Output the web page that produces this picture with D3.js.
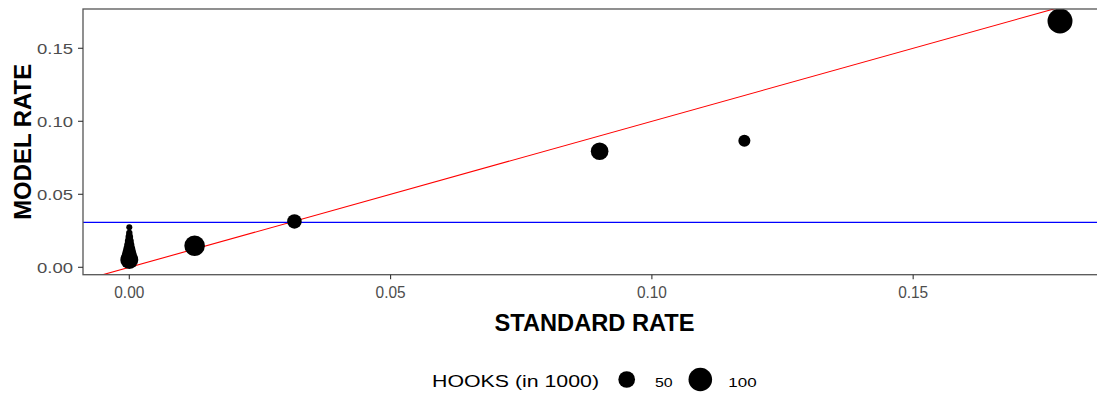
<!DOCTYPE html>
<html>
<head>
<meta charset="utf-8">
<script src="https://cdn.jsdelivr.net/npm/d3@7"></script>
<style>
  html, body { margin: 0; padding: 0; background: #fff; }
  svg { display: block; font-family: "Liberation Sans", Arial, sans-serif; }
</style>
</head>
<body>
<svg id="chart" width="1097" height="394"></svg>
<script>
// Standard vs model rate per group, point size = hooks (thousands)
const standardRate = [0.1781, 0.0900, 0.1177, 0.0316, 0.0125,
                      0, 0, 0, 0, 0, 0, 0, 0, 0];
const modelRate    = [0.1687, 0.0795, 0.0866, 0.0314, 0.0147,
                      0.0050, 0.0071, 0.0098, 0.0125, 0.0153, 0.0180, 0.0208, 0.0235, 0.0274];
const hooks        = [112, 56, 26, 38, 76,
                      58, 46, 35, 26, 19, 14.5, 10.4, 7.4, 6.5];
const meanRate = 0.0308;

const xTicks = [0, 0.05, 0.10, 0.15];
const yTicks = [0, 0.05, 0.10, 0.15];
const sizeBreaks = [50, 100];

const svg = d3.select("#chart");
const panel = { left: 83, right: 1106, top: 9, bottom: 274.7 };

const x = d3.scaleLinear().domain([-0.00886, 0.1869]).range([panel.left, panel.right]);
const y = d3.scaleLinear().domain([-0.00507, 0.1769]).range([panel.bottom, panel.top]);
const r = d3.scaleSqrt().domain([0, 100]).range([0, 11.8]);

svg.append("defs").append("clipPath").attr("id", "clip")
  .append("rect")
  .attr("x", panel.left).attr("y", panel.top)
  .attr("width", panel.right - panel.left).attr("height", panel.bottom - panel.top);

const plot = svg.append("g").attr("clip-path", "url(#clip)");

// reference lines: identity (red) and mean rate (blue)
const xd = x.domain();
plot.append("line")
  .attr("x1", x(xd[0])).attr("y1", y(xd[0]))
  .attr("x2", x(xd[1])).attr("y2", y(xd[1]))
  .attr("stroke", "#ff0000").attr("stroke-width", 1.1);

plot.append("line")
  .attr("x1", panel.left).attr("x2", panel.right)
  .attr("y1", y(meanRate)).attr("y2", y(meanRate))
  .attr("stroke", "#0000ff").attr("stroke-width", 1.1);

// points
plot.selectAll("circle.pt")
  .data(standardRate.map((s, i) => ({ s, m: modelRate[i], h: hooks[i] })))
  .join("circle")
  .attr("class", "pt")
  .attr("cx", d => x(d.s))
  .attr("cy", d => y(d.m))
  .attr("r", d => r(d.h))
  .attr("fill", "#000");

// panel border
svg.append("rect")
  .attr("x", panel.left).attr("y", panel.top)
  .attr("width", panel.right - panel.left).attr("height", panel.bottom - panel.top)
  .attr("fill", "none").attr("stroke", "#555").attr("stroke-width", 1.3);

// x axis
const xAxis = svg.append("g");
xAxis.selectAll("line").data(xTicks).join("line")
  .attr("x1", d => x(d)).attr("x2", d => x(d))
  .attr("y1", panel.bottom).attr("y2", panel.bottom + 4.5)
  .attr("stroke", "#333").attr("stroke-width", 1.1);
xAxis.selectAll("text").data(xTicks).join("text")
  .attr("x", d => x(d)).attr("y", 297.5)
  .attr("text-anchor", "middle")
  .attr("font-size", 16).attr("fill", "#4d4d4d")
  .attr("textLength", 30).attr("lengthAdjust", "spacingAndGlyphs")
  .text(d => d3.format(".2f")(d));

// y axis
const yAxis = svg.append("g");
yAxis.selectAll("line").data(yTicks).join("line")
  .attr("x1", panel.left - 5).attr("x2", panel.left)
  .attr("y1", d => y(d)).attr("y2", d => y(d))
  .attr("stroke", "#333").attr("stroke-width", 1.1);
yAxis.selectAll("text").data(yTicks).join("text")
  .attr("x", 73).attr("y", d => y(d)).attr("dy", "0.36em")
  .attr("text-anchor", "end")
  .attr("font-size", 15).attr("fill", "#4d4d4d")
  .attr("textLength", 36).attr("lengthAdjust", "spacingAndGlyphs")
  .text(d => d3.format(".2f")(d));

// axis titles
svg.append("text")
  .attr("x", (panel.left + panel.right) / 2).attr("y", 331)
  .attr("text-anchor", "middle")
  .attr("font-size", 23).attr("font-weight", "bold").attr("fill", "#000")
  .attr("textLength", 200).attr("lengthAdjust", "spacingAndGlyphs")
  .text("STANDARD RATE");

svg.append("text")
  .attr("transform", `translate(31, ${(panel.top + panel.bottom) / 2}) rotate(-90)`)
  .attr("text-anchor", "middle")
  .attr("font-size", 23).attr("font-weight", "bold").attr("fill", "#000")
  .attr("textLength", 156).attr("lengthAdjust", "spacingAndGlyphs")
  .text("MODEL RATE");

// size legend
const legend = svg.append("g");
legend.append("text")
  .attr("x", 432).attr("y", 386.5)
  .attr("font-size", 16).attr("fill", "#000")
  .attr("textLength", 167).attr("lengthAdjust", "spacingAndGlyphs")
  .text("HOOKS (in 1000)");

const keyX = [626.7, 700.3];
const labX = [655, 728.3];
const labW = [17.7, 28.3];
sizeBreaks.forEach((b, i) => {
  legend.append("circle")
    .attr("cx", keyX[i]).attr("cy", 379.5)
    .attr("r", r(b)).attr("fill", "#000");
  legend.append("text")
    .attr("x", labX[i]).attr("y", 386.7)
    .attr("font-size", 13).attr("fill", "#000")
    .attr("textLength", labW[i]).attr("lengthAdjust", "spacingAndGlyphs")
    .text(b);
});
</script>
</body>
</html>
